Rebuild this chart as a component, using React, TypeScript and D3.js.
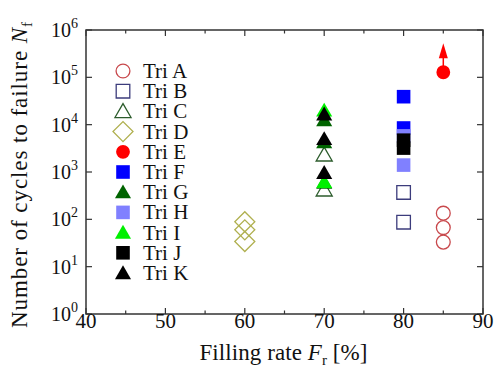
import React, { useEffect, useRef } from 'react'
import * as d3 from 'd3'

// filling rate of each specimen group [%]
const series = ['Tri A', 'Tri B', 'Tri C', 'Tri D', 'Tri E', 'Tri F', 'Tri G', 'Tri H', 'Tri I', 'Tri J', 'Tri K']
const fillingRate = [85, 80, 70, 60, 85, 80, 70, 80, 70, 80, 70]
// cycles to failure
const cyclesA = [135, 67, 33]
const cyclesB = [370, 87]
const cyclesC = [2300, 420]
const cyclesD = [89, 60, 34]
const cyclesE = [128000]
const cyclesF = [39000, 8500]
const cyclesG = [12500, 4300, 600]
const cyclesH = [5800, 1400]
const cyclesI = [20000, 620]
const cyclesJ = [4700, 3200]
const cyclesK = [16500, 5000, 960]
const cycles = [cyclesA, cyclesB, cyclesC, cyclesD, cyclesE, cyclesF, cyclesG, cyclesH, cyclesI, cyclesJ, cyclesK]

const xTicks = [40, 50, 60, 70, 80, 90]
const xMinorTicks = [45, 55, 65, 75, 85]
const yExponents = [0, 1, 2, 3, 4, 5, 6]

const STYLE = [
    { shape: 'circle', fill: 'none', stroke: '#c8484c' },
    { shape: 'square', fill: 'none', stroke: '#3c3c7c' },
    { shape: 'triangle', fill: 'none', stroke: '#2c5c2c' },
    { shape: 'diamond', fill: 'none', stroke: '#b0b050' },
    { shape: 'circle', fill: '#ff0000', stroke: 'none' },
    { shape: 'square', fill: '#0000ff', stroke: 'none' },
    { shape: 'triangle', fill: '#006400', stroke: 'none' },
    { shape: 'square', fill: '#8080ff', stroke: 'none' },
    { shape: 'triangle', fill: '#00f000', stroke: 'none' },
    { shape: 'square', fill: '#000000', stroke: 'none' },
    { shape: 'triangle', fill: '#000000', stroke: 'none' }
]

const W = 495
const H = 369
const M = { left: 86, right: 12, top: 30, bottom: 55 }
const FONT = '"Liberation Serif", "Times New Roman", serif'

const symbolPath = (shape: string) => {
    if (shape === 'circle') return d3.symbol(d3.symbolCircle, 150)()
    if (shape === 'square') return d3.symbol(d3.symbolSquare, 185)()
    if (shape === 'diamond') return d3.symbol(d3.symbolSquare, 200)()
    return d3.symbol(d3.symbolTriangle, 112)()
}

const drawMarker = (g, shape, style, x, y) => {
    const rot = shape === 'diamond' ? ' rotate(45)' : ''
    const dy = shape === 'triangle' ? 1.5 : 0
    g.append('path')
        .attr('d', symbolPath(shape))
        .attr('transform', `translate(${x}, ${y + dy})${rot}`)
        .attr('fill', style.fill)
        .attr('stroke', style.stroke)
        .attr('stroke-width', style.stroke === 'none' ? 0 : 1.3)
}

const create = el => {
    const svg = d3
        .select(el)
        .append('svg')
        .attr('width', W)
        .attr('height', H)
        .attr('style', 'position:absolute;left:0;top:0;background:#fff')
        .style('font-family', FONT)

    const x = d3.scaleLinear().domain([40, 90]).range([M.left, W - M.right])
    const y = d3.scaleLog().domain([1, 1e6]).range([H - M.bottom, M.top])

    const x0 = x.range()[0]
    const x1 = x.range()[1]
    const y0 = y.range()[0]
    const y1 = y.range()[1]

    // ticks on all four sides, pointing inward
    const ticks = svg.append('g').attr('stroke', '#333').attr('stroke-width', 1.2)
    xTicks.concat(xMinorTicks).forEach(t => {
        const len = xTicks.includes(t) ? 6 : 3.5
        ticks.append('line').attr('x1', x(t)).attr('x2', x(t)).attr('y1', y0).attr('y2', y0 - len)
        ticks.append('line').attr('x1', x(t)).attr('x2', x(t)).attr('y1', y1).attr('y2', y1 + len)
    })
    yExponents.forEach(e => {
        const v = Math.pow(10, e)
        ticks.append('line').attr('x1', x0).attr('x2', x0 + 6).attr('y1', y(v)).attr('y2', y(v))
        ticks.append('line').attr('x1', x1).attr('x2', x1 - 6).attr('y1', y(v)).attr('y2', y(v))
    })

    svg.append('rect')
        .attr('x', x0)
        .attr('y', y1)
        .attr('width', x1 - x0)
        .attr('height', y0 - y1)
        .attr('fill', 'none')
        .attr('stroke', '#333')
        .attr('stroke-width', 1.5)

    // tick labels
    xTicks.forEach(t => {
        svg.append('text')
            .attr('x', x(t))
            .attr('y', y0 + 14)
            .attr('text-anchor', 'middle')
            .attr('font-size', 21)
            .attr('fill', '#111')
            .text(t)
    })
    yExponents.forEach(e => {
        const txt = svg.append('text')
            .attr('x', x0 - 8)
            .attr('y', y(Math.pow(10, e)) + 7)
            .attr('text-anchor', 'end')
            .attr('font-size', 20)
            .attr('fill', '#111')
        txt.append('tspan').text('10')
        txt.append('tspan').attr('font-size', 14).attr('dy', -9).text(e)
    })

    // axis titles
    const xl = svg.append('text')
        .attr('x', (x0 + x1) / 2 - 1)
        .attr('y', H - 9)
        .attr('text-anchor', 'middle')
        .attr('font-size', 23)
        .attr('textLength', 168)
        .attr('lengthAdjust', 'spacing')
        .attr('fill', '#111')
    xl.append('tspan').text('Filling rate ')
    xl.append('tspan').attr('font-style', 'italic').text('F')
    xl.append('tspan').attr('font-size', 15).attr('dy', 5).text('r')
    xl.append('tspan').attr('dy', -5).text(' [%]')

    const yl = svg.append('text')
        .attr('transform', `translate(27, ${(y0 + y1) / 2 + 3}) rotate(-90)`)
        .attr('text-anchor', 'middle')
        .attr('font-size', 23)
        .attr('textLength', 306)
        .attr('lengthAdjust', 'spacing')
        .attr('fill', '#111')
    yl.append('tspan').text('Number of cycles to failure ')
    yl.append('tspan').attr('font-style', 'italic').text('N')
    yl.append('tspan').attr('font-size', 15).attr('dy', 5).text('f')

    // data markers
    const marks = svg.append('g')
    series.forEach((name, i) => {
        cycles[i].forEach(c => {
            drawMarker(marks, STYLE[i].shape, STYLE[i], x(fillingRate[i]), y(c))
        })
    })

    // run-out arrow for Tri E
    const ex = x(fillingRate[4])
    const ey = y(cyclesE[0])
    marks.append('line')
        .attr('x1', ex)
        .attr('x2', ex)
        .attr('y1', ey)
        .attr('y2', ey - 16)
        .attr('stroke', '#ff0000')
        .attr('stroke-width', 1.5)
    marks.append('path')
        .attr('d', `M${ex - 4.5},${ey - 14} L${ex + 4.5},${ey - 14} L${ex},${ey - 29} Z`)
        .attr('fill', '#ff0000')

    // legend
    const legend = svg.append('g').attr('transform', 'translate(123, 71)')
    series.forEach((name, i) => {
        drawMarker(legend, STYLE[i].shape, STYLE[i], 0, i * 20.2)
        legend.append('text')
            .attr('x', 20)
            .attr('y', i * 20.2 + 7)
            .attr('font-size', 21)
            .attr('fill', '#111')
            .text(name)
    })
}

export default function App() {
    const ref = useRef(null)
    useEffect(() => {
        create(ref.current)
        return () => {
            d3.select(ref.current).select('svg').remove()
        }
    }, [])
    return <div ref={ref} />
}
